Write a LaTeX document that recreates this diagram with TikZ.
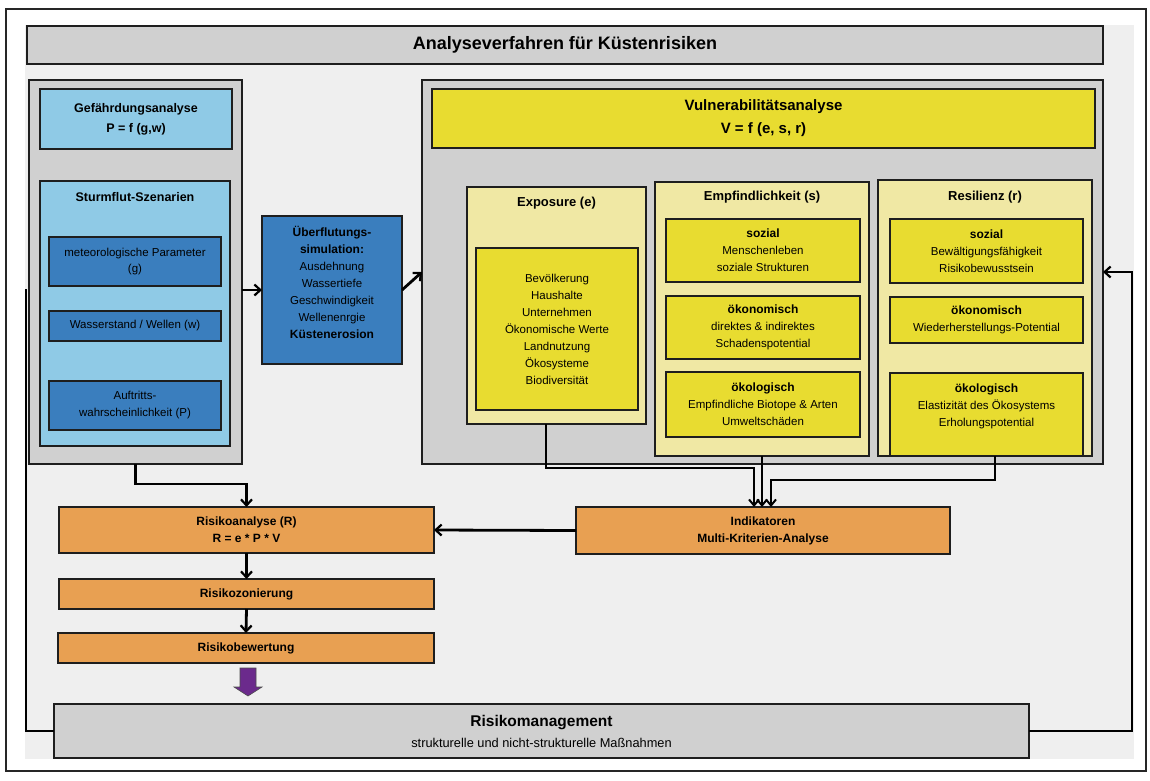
\documentclass[tikz,border=0pt]{standalone}
\usepackage{fontspec}
\setmainfont{Liberation Sans}
\usetikzlibrary{arrows.meta,fit,calc}
\definecolor{bgl}{HTML}{EFEFEF}
\definecolor{grayb}{HTML}{D0D0D0}
\definecolor{lblue}{HTML}{8FCAE6}
\definecolor{dblue}{HTML}{3A7EBE}
\definecolor{yel}{HTML}{E8DC30}
\definecolor{lyel}{HTML}{F0E8A4}
\definecolor{ora}{HTML}{E8A052}
\definecolor{purp}{HTML}{6B2A8C}
\definecolor{edgec}{HTML}{1E1E1E}
\begin{document}
\begin{tikzpicture}[x=1pt,y=-1pt,
  bx/.style={draw=edgec,line width=1.4pt,inner sep=0pt,outer sep=0pt},
  graybox/.style={bx,fill=grayb},
  lbluebox/.style={bx,fill=lblue},
  dbluebox/.style={bx,fill=dblue},
  yelbox/.style={bx,fill=yel},
  lyelbox/.style={bx,fill=lyel},
  orabox/.style={bx,fill=ora},
  body/.style={font=\fontsize{11.5}{17}\selectfont},
  bhead/.style={font=\bfseries\fontsize{12.5}{20}\selectfont},
  ohead/.style={font=\bfseries\fontsize{12}{17}\selectfont},
  txt/.style={inner sep=0pt,align=center,text=black},
  conn/.style={line width=2.8pt,draw=black,-{Straight Barb[length=6pt,width=11pt,line width=2.2pt]}},
  connthin/.style={line width=2.4pt,draw=black,-{Straight Barb[length=6pt,width=10pt,line width=2pt]}},
  plain/.style={line width=2.8pt,draw=black},
]
\useasboundingbox (0,0) rectangle (1150,780);
% frame and background
\node[draw=black!85,line width=2pt,fill=white,inner sep=0pt,fit={(6,9)(1146,771)}] (frame) {};
\node[fill=bgl,inner sep=0pt,fit={(25,25)(1134,759)}] (bg) {};
% title
\node[graybox,fit={(27,26)(1103,64)}] (title) {};
\node[txt,font=\bfseries\fontsize{18}{22}\selectfont] (titlet) at (title.center) {Analyseverfahren für Küstenrisiken};

% Gefaehrdung
\node[graybox,fit={(29,80)(242,464)}] (gef) {};
\node[lbluebox,fit={(40,89)(232,149)}] (gefh) {};
\node[txt,bhead] (gefht) at (gefh.center) {Gefährdungsanalyse\\P = f (g,w)};
\node[lbluebox,fit={(40,181)(230,446)}] (sturm) {};
\node[txt,bhead] (sturmt) at (135,197) {Sturmflut-Szenarien};
\node[dbluebox,fit={(49,237)(221,286)}] (meteo) {};
\node[txt,font=\fontsize{11.5}{16}\selectfont] (meteot) at (meteo.center) {meteorologische Parameter\\(g)};
\node[dbluebox,fit={(49,311)(221,341)}] (wasser) {};
\node[txt,body] (wassert) at (wasser.center) {Wasserstand / Wellen (w)};
\node[dbluebox,fit={(49,381)(221,430)}] (auftr) {};
\node[txt,body] (auftrt) at (auftr.center) {Auftritts-\\wahrscheinlichkeit (P)};

% Ueberflutung
\node[dbluebox,fit={(262,216)(402,364)}] (ueber) {};
\node[txt,body] (uebert) at (332,282) {\textbf{\fontsize{12}{17}\selectfont Überflutungs-}\\\textbf{\fontsize{12}{17}\selectfont simulation:}\\Ausdehnung\\Wassertiefe\\Geschwindigkeit\\Wellenenrgie\\\textbf{\fontsize{12}{17}\selectfont Küstenerosion}};

% Vulnerabilitaet
\node[graybox,fit={(422,80)(1103,464)}] (vul) {};
\node[yelbox,fit={(432,89)(1095,148)}] (vulh) {};
\node[txt,font=\bfseries\fontsize{15}{23}\selectfont] (vulht) at (vulh.center) {Vulnerabilitätsanalyse\\V = f (e, s, r)};

\node[lyelbox,fit={(467,187)(646,424)}] (expo) {};
\node[txt,font=\bfseries\fontsize{13}{16}\selectfont] (expot) at (556.5,203) {Exposure (e)};
\node[yelbox,fit={(476,248)(638,410)}] (expoin) {};
\node[txt,body] (expoint) at (expoin.center) {Bevölkerung\\Haushalte\\Unternehmen\\Ökonomische Werte\\Landnutzung\\Ökosysteme\\Biodiversität};

\node[lyelbox,fit={(655,182)(869,456)}] (empf) {};
\node[txt,font=\bfseries\fontsize{13}{16}\selectfont] (empft) at (762,197) {Empfindlichkeit (s)};
\node[yelbox,fit={(666,219)(860,282)}] (es1) {};
\node[txt,body] (es1t) at (es1.center) {\textbf{\fontsize{12}{17}\selectfont sozial}\\Menschenleben\\soziale Strukturen};
\node[yelbox,fit={(666,296)(860,359)}] (es2) {};
\node[txt,body] (es2t) at (es2.center) {\textbf{\fontsize{12}{17}\selectfont ökonomisch}\\direktes \& indirektes\\Schadenspotential};
\node[yelbox,fit={(666,372)(860,437)}] (es3) {};
\node[txt,body] (es3t) at (es3.center) {\textbf{\fontsize{12}{17}\selectfont ökologisch}\\Empfindliche Biotope \& Arten\\Umweltschäden};

\node[lyelbox,fit={(878,180)(1092,456)}] (res) {};
\node[txt,font=\bfseries\fontsize{13}{16}\selectfont] (rest) at (985,197) {Resilienz (r)};
\node[yelbox,fit={(890,219)(1083,283)}] (rs1) {};
\node[txt,body] (rs1t) at (rs1.center) {\textbf{\fontsize{12}{17}\selectfont sozial}\\Bewältigungsfähigkeit\\Risikobewusstsein};
\node[yelbox,fit={(890,297)(1083,343)}] (rs2) {};
\node[txt,body] (rs2t) at (rs2.center) {\textbf{\fontsize{12}{17}\selectfont ökonomisch}\\Wiederherstellungs-Potential};
\node[yelbox,fit={(890,373)(1083,456)}] (rs3) {};
\node[txt,body] (rs3t) at (986.5,406) {\textbf{\fontsize{12}{17}\selectfont ökologisch}\\Elastizität des Ökosystems\\Erholungspotential};

% Risiko chain
\node[orabox,fit={(59,507)(434,553)}] (risk) {};
\node[txt,ohead] (riskt) at (risk.center) {Risikoanalyse (R)\\R = e * P * V};
\node[orabox,fit={(59,579)(434,609)}] (zon) {};
\node[txt,ohead] (zont) at (zon.center) {Risikozonierung};
\node[orabox,fit={(58,633)(434,663)}] (bew) {};
\node[txt,ohead] (bewt) at (bew.center) {Risikobewertung};
\node[orabox,fit={(576,507)(950,554)}] (ind) {};
\node[txt,ohead] (indt) at (ind.center) {Indikatoren\\Multi-Kriterien-Analyse};
\node[graybox,fit={(54,704)(1029,758)}] (mgmt) {};
\node[txt,font=\fontsize{12.8}{21}\selectfont] (mgmtt) at (mgmt.center) {{\bfseries\fontsize{15.5}{21}\selectfont Risikomanagement}\\strukturelle und nicht-strukturelle Maßnahmen};

% purple block arrow
\draw[fill=purp,draw=black!70,line width=0.6pt]
  ($(bew.south)+(-6,5)$) -- ($(bew.south)+(10,5)$) -- ($(bew.south)+(10,24)$) -- ($(bew.south)+(16,24)$)
  -- ($(bew.south)+(2,33)$) -- ($(bew.south)+(-12,24)$) -- ($(bew.south)+(-6,24)$) -- cycle;

% connectors
\draw[conn] (gef.east |- ueber.west) -- (ueber.west);
\draw[conn] (ueber.east) -- (vul.west);
\draw[conn] (gef.south) -- ++(0,20) -| (risk.north);
\draw[conn] (risk.south) -- (zon.north);
\draw[conn] (zon.south) -- (bew.north);
\draw[conn] (ind.west) -- (risk.east);
\draw[connthin] ($(expo.south)+(-10.5,0)$) |- ($(ind.north)+(-9,-39)$) -- ($(ind.north)+(-9,0)$);
\draw[connthin] (empf.south) -- (empf.south |- ind.north);
\draw[connthin] ($(rs3.south)+(8.5,0)$) -- ++(0,24) -| ($(ind.north)+(8,0)$);
\draw[conn] (mgmt.east) -- (1132,731) |- (vul.east);
\coordinate (fbend) at (26,289);
\draw[plain] (mgmt.west) -| (fbend);
\end{tikzpicture}
\end{document}
